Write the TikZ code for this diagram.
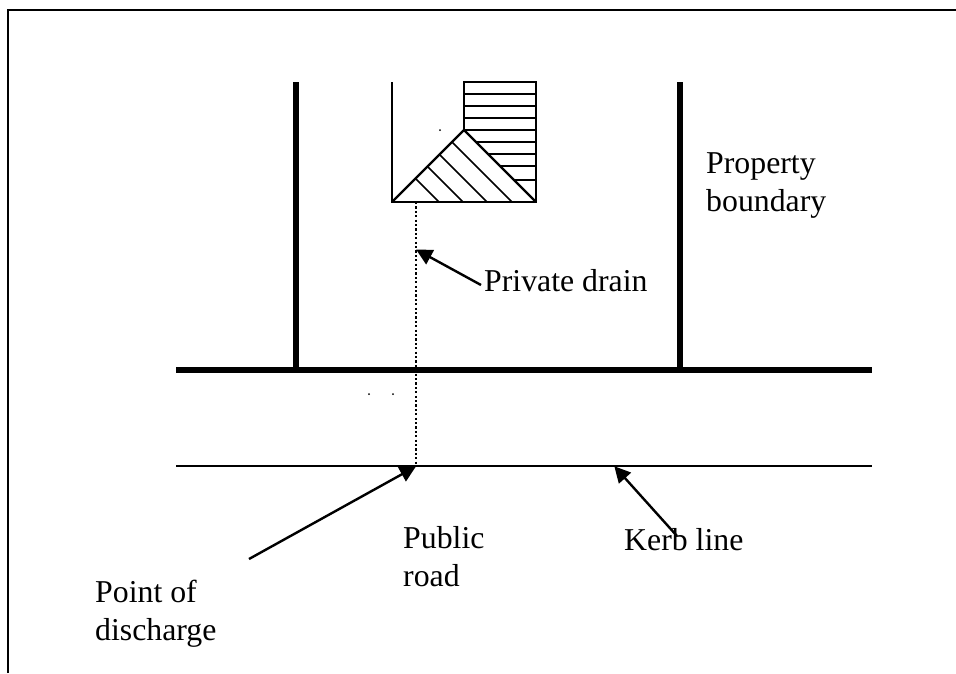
\documentclass[tikz,border=0pt]{standalone}
\usepackage{fontspec}
\setmainfont{Liberation Serif}
\usetikzlibrary{arrows.meta}

\begin{document}
\begin{tikzpicture}[x=1pt,y=-1pt,
  label/.style={anchor=base west,align=left,inner sep=0pt,font=\fontsize{31.8}{38}\selectfont},
  frame/.style={line width=2.4pt},
  boundary/.style={line width=5.5pt},
  kerb/.style={line width=2.6pt},
  house/.style={line width=2.4pt},
  hatch/.style={line width=1.6pt},
  drain/.style={line width=2.2pt,dash pattern=on 2.2pt off 2.2pt},
  pointer/.style={line width=2.4pt,-{Triangle[length=16pt,width=16pt]},shorten >=-1pt}]
\useasboundingbox (0,0) rectangle (956,673);

% outer frame
\draw[frame] (8,673) -- (8,10) -- (956,10);

% property and road
\coordinate (roadl) at (176,370);
\coordinate (roadr) at (872,370);
\coordinate (kerbl) at (176,466);
\coordinate (kerbr) at (872,466);
\foreach \x in {296,680}
{
  \draw[boundary] (\x,82) -- (\x,370);
}
\draw[boundary] (roadl) -- (roadr);
\draw[kerb] (kerbl) -- (kerbr);

% building
\draw[house] (392,82) -- (392,202) -- (536,202) -- (536,82) -- (464,82) -- (464,130);
\draw[house] (392,202) -- (464,130) -- (536,202);

\foreach \y in {94,106,118,130}
{
  \draw[hatch] (464,\y) -- (536,\y);
}
\foreach \y in {142,154,166,180}
{
  \draw[hatch] (334+\y,\y) -- (536,\y);
}
\foreach \x in {439,463,487,512}
{
  \pgfmathsetmacro{\z}{(\x-392)/2}
  \draw[hatch] (392+\z,202-\z) -- (\x,202);
}

% drain
\coordinate (drainup) at (416,202);
\coordinate (draindown) at (416,466);
\draw[drain] (drainup) -- (draindown);

% stray marks
\foreach \x/\y in {440/130,369/394,393/394}
{
  \fill (\x,\y) circle (1pt);
}

% labels
\node[label] (propertylab) at (706,211) {Property\\boundary};
\node[label] (drainlab) at (484,291) {Private drain};
\node[label] (roadlab) at (403,586) {Public\\road};
\node[label] (kerblab) at (624,550) {Kerb line};
\node[label] (pointlab) at (95,640) {Point of\\discharge};

% arrows
\coordinate (draintip) at (417,250);
\coordinate (draintail) at (481,285);
\coordinate (pointtip) at (415,467);
\coordinate (pointtail) at (249,559);
\coordinate (kerbtip) at (615,467);
\coordinate (kerbtail) at (677,536);
\draw[pointer] (draintail) -- (draintip);
\draw[pointer] (pointtail) -- (pointtip);
\draw[pointer] (kerbtail) -- (kerbtip);

\end{tikzpicture}
\end{document}
